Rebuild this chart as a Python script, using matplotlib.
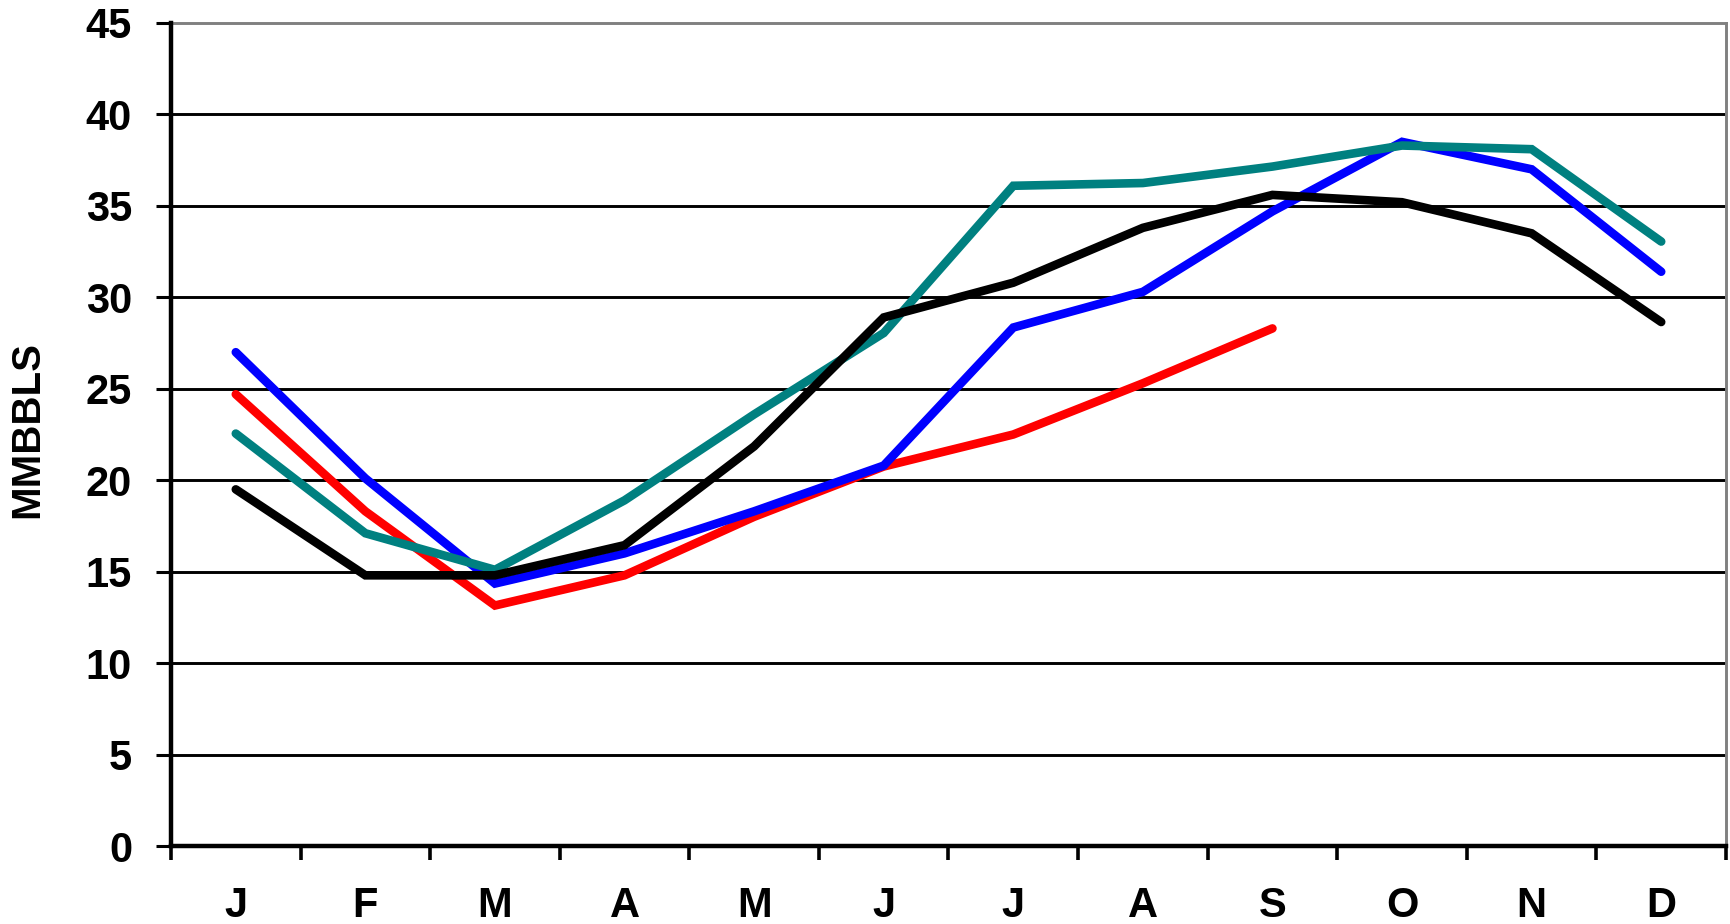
import matplotlib
matplotlib.use("Agg")
import matplotlib.pyplot as plt
import numpy as np

months = ["J", "F", "M", "A", "M", "J", "J", "A", "S", "O", "N", "D"]
blue_vals = [27.0, 20.1, 14.35, 16.0, 18.3, 20.8, 28.35, 30.3, 34.7, 38.5, 37.0, 31.4]
red_vals = [24.7, 18.3, 13.15, 14.8, 18.0, 20.75, 22.5, 25.3, 28.3]
teal_vals = [22.55, 17.1, 15.1, 18.9, 23.6, 28.05, 36.1, 36.25, 37.15, 38.3, 38.1, 33.05]
black_vals = [19.5, 14.8, 14.8, 16.45, 21.85, 28.9, 30.8, 33.8, 35.6, 35.2, 33.5, 28.65]
y_ticks = [0, 5, 10, 15, 20, 25, 30, 35, 40, 45]
y_label = "MMBBLS"

plt.rcParams['font.family'] = ['Liberation Sans', 'DejaVu Sans']

fig = plt.figure(figsize=(17.31, 9.24), dpi=100)
ax = fig.add_axes([171/1731, 1 - 846/924, (1726 - 171)/1731, (846 - 23)/924])

x = np.arange(len(months)) + 0.5
series = [
    (red_vals, "#FF0000"),
    (blue_vals, "#0000FF"),
    (teal_vals, "#008080"),
    (black_vals, "#000000"),
]
for vals, col in series:
    ax.plot(x[:len(vals)], vals, color=col, lw=6.2, solid_capstyle='round',
            solid_joinstyle='miter', zorder=3)

ax.set_xlim(0, 12)
ax.set_ylim(0, 45)

for yv in y_ticks[1:-1]:
    ax.axhline(yv, color='black', lw=2.1, zorder=1)
ax.axhline(45, color='#808080', lw=2.1, zorder=1, clip_on=False)

ax.spines['top'].set_visible(False)
ax.spines['right'].set_color('#808080')
ax.spines['right'].set_linewidth(2.1)
ax.spines['left'].set_linewidth(3.2)
ax.spines['bottom'].set_linewidth(3.2)

ax.set_yticks(y_ticks)
ax.set_yticklabels([str(v) for v in y_ticks], fontsize=30, fontweight='bold')
ax.tick_params(axis='y', direction='out', length=11, width=2.2, pad=17)

ax.set_xticks(np.arange(0, 13))
ax.set_xticklabels([])
ax.tick_params(axis='x', which='major', direction='out', length=10, width=2.6)
ax.set_xticks(x, minor=True)
ax.set_xticklabels(months, minor=True, fontsize=30, fontweight='bold')
ax.tick_params(axis='x', which='minor', length=0, pad=29)

fig.text(27/1731, 1 - 430/924, y_label, rotation=90, fontsize=29, fontweight='bold',
         ha='center', va='center')

fig.savefig("out.png", dpi=100, facecolor='white')
